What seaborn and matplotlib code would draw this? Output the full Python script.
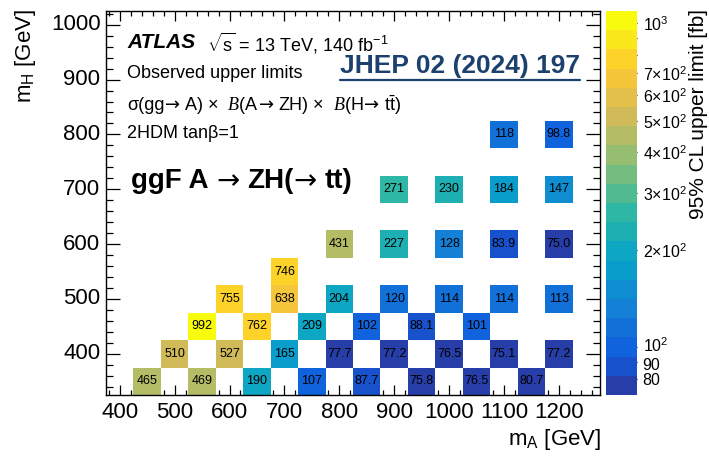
import numpy as np
import pandas as pd
import matplotlib
matplotlib.use("Agg")
import matplotlib.pyplot as plt
import matplotlib.transforms as mtransforms
import seaborn as sns
from matplotlib.colors import ListedColormap, LogNorm, LinearSegmentedColormap
from matplotlib.ticker import FixedLocator, FixedFormatter
from matplotlib.lines import Line2D

# Signal mass points (GeV) and observed 95% CL upper limits (fb)
m_A = [450, 550, 650, 750, 850, 950, 1050, 1150,
       500, 600, 700, 800, 900, 1000, 1100, 1200,
       550, 650, 750, 850, 950, 1050,
       600, 700, 800, 900, 1000, 1100, 1200,
       700,
       800, 900, 1000, 1100, 1200,
       900, 1000, 1100, 1200,
       1100, 1200]
m_H = [350, 350, 350, 350, 350, 350, 350, 350,
       400, 400, 400, 400, 400, 400, 400, 400,
       450, 450, 450, 450, 450, 450,
       500, 500, 500, 500, 500, 500, 500,
       550,
       600, 600, 600, 600, 600,
       700, 700, 700, 700,
       800, 800]
limit_fb = [465, 469, 190, 107, 87.7, 75.8, 76.5, 80.7,
            510, 527, 165, 77.7, 77.2, 76.5, 75.1, 77.2,
            992, 762, 209, 102, 88.1, 101,
            755, 638, 204, 120, 114, 114, 113,
            746,
            431, 227, 128, 83.9, 75.0,
            271, 230, 184, 147,
            118, 98.8]

# 50 GeV binning of both mass axes
ma_centres = np.arange(400, 1251, 50)
mh_centres = np.arange(350, 1001, 50)

# colour bar tick values / labels
cb_major = [100, 1000]
cb_major_labels = [r"$10^{2}$", r"$10^{3}$"]
cb_minor = [80, 90, 200, 300, 400, 500, 600, 700, 800, 900]
cb_minor_labels = ["80", "90", r"$2{\times}10^{2}$", r"$3{\times}10^{2}$",
                   r"$4{\times}10^{2}$", r"$5{\times}10^{2}$", r"$6{\times}10^{2}$",
                   r"$7{\times}10^{2}$", "", ""]

sns.set_theme(style="ticks")
LS = ["Liberation Sans", "DejaVu Sans"]
DV = ["DejaVu Sans"]
plt.rcParams["font.family"] = LS
plt.rcParams["text.color"] = "black"
plt.rcParams["axes.labelcolor"] = "black"
plt.rcParams["xtick.color"] = "black"
plt.rcParams["ytick.color"] = "black"
plt.rcParams["mathtext.fontset"] = "custom"
plt.rcParams["mathtext.rm"] = "Liberation Sans"
plt.rcParams["mathtext.it"] = "Liberation Serif:italic"
plt.rcParams["mathtext.bf"] = "Liberation Sans:bold"
plt.rcParams["mathtext.sf"] = "Liberation Sans"
plt.rcParams["mathtext.default"] = "rm"

# ROOT "kBird" palette, discretised into 20 contour levels
bird_stops = [0.0, 0.125, 0.25, 0.375, 0.5, 0.625, 0.75, 0.875, 1.0]
bird_r = [0.2082, 0.0592, 0.0780, 0.0232, 0.1802, 0.5301, 0.8186, 0.9956, 0.9764]
bird_g = [0.1664, 0.3599, 0.5041, 0.6419, 0.7178, 0.7492, 0.7328, 0.7862, 0.9832]
bird_b = [0.5293, 0.8684, 0.8385, 0.7914, 0.6425, 0.4662, 0.3499, 0.1968, 0.0539]
bird = LinearSegmentedColormap.from_list(
    "bird", list(zip(bird_stops, zip(bird_r, bird_g, bird_b))), N=255)
n_levels = 20
level_pos = [np.floor((i + 0.99) * 255 / n_levels) / 254 for i in range(n_levels)]
cmap = ListedColormap([bird(p) for p in level_pos])
norm = LogNorm(vmin=min(limit_fb) * 0.95, vmax=max(limit_fb) * 1.1)

df = pd.DataFrame({"mA": m_A, "mH": m_H, "limit": limit_fb})
grid = df.pivot(index="mH", columns="mA", values="limit").reindex(
    index=mh_centres, columns=ma_centres)
fmt_val = np.vectorize(lambda v: "" if np.isnan(v) else (f"{v:.0f}" if v >= 100 else f"{v:.1f}"))
annot = fmt_val(grid.values)

W, H = 709, 462
fig = plt.figure(figsize=(W / 100, H / 100), dpi=100)
ax = fig.add_axes([106 / W, 1 - 395 / H, 494 / W, 384 / H])
cax = fig.add_axes([606 / W, 1 - 395 / H, 31 / W, 384 / H])

sns.heatmap(grid, ax=ax, cbar_ax=cax, cmap=cmap, norm=norm,
            annot=annot, fmt="", linewidths=0,
            annot_kws=dict(color="black", fontsize=9))
ax.invert_yaxis()
for s in ax.spines.values():
    s.set_visible(True)
    s.set_color("black")
    s.set_linewidth(1.0)

def to_x(m):
    return (np.asarray(m, dtype=float) - 375) / 50

def to_y(m):
    return (np.asarray(m, dtype=float) - 325) / 50

xt = np.arange(400, 1201, 100)
yt = np.arange(400, 1001, 100)
ax.set_xticks(to_x(xt))
ax.set_xticklabels([str(v) for v in xt], rotation=0, fontsize=16)
ax.set_xticks(to_x(np.arange(380, 1275, 20)), minor=True)
ax.set_yticks(to_y(yt))
ax.set_yticklabels([str(v) for v in yt], rotation=0, fontsize=16)
ax.set_yticks(to_y(np.arange(340, 1025, 20)), minor=True)
ax.set_xlabel("")
ax.set_ylabel("")
ax.tick_params(which="both", direction="in", top=True, right=True,
               color="black", width=0.9, labelcolor="black")
ax.tick_params(axis="x", which="major", length=7, pad=5)
ax.tick_params(axis="x", which="minor", length=3.5)
ax.tick_params(axis="y", which="major", length=10, pad=4)
ax.tick_params(axis="y", which="minor", length=5)

# colour bar: ticks drawn inward from the right edge, labels beside them
cb_size = 11.5
cb_pad = 4
cbar = ax.collections[0].colorbar
cbar.outline.set_visible(False)
shifted = {100: 2, 90: -1}  # small vertical nudges (points) for the two crowded labels
cbar.set_ticks(cb_major, labels=["" if v in shifted else l for v, l in zip(cb_major, cb_major_labels)])
cax.yaxis.set_minor_locator(FixedLocator(cb_minor))
cax.yaxis.set_minor_formatter(FixedFormatter(
    ["" if v in shifted else l for v, l in zip(cb_minor, cb_minor_labels)]))
cax.yaxis.set_ticks_position("right")
cax.tick_params(which="both", direction="in", color="black", width=0.9,
                labelsize=cb_size, pad=cb_pad, labelcolor="black")
cax.tick_params(which="major", length=11)
cax.tick_params(which="minor", length=3.6)
cax.set_ylabel("")
cb_trans = mtransforms.blended_transform_factory(cax.transAxes, cax.transData)
all_vals = cb_major + cb_minor
all_labels = cb_major_labels + cb_minor_labels
for v, dy in shifted.items():
    lab = all_labels[all_vals.index(v)]
    cax.text(1.0, v, lab, fontsize=cb_size, ha="left", va="center_baseline",
             transform=mtransforms.offset_copy(cb_trans, fig=fig, x=cb_pad, y=dy, units="points"))

def px(x, y):
    return x / W, 1 - y / H

# axis titles
fig.text(*px(26, 9), r"m$_{\mathrm{H}}$ [GeV]", rotation=90, ha="center", va="top", fontsize=16)
fig.text(*px(601, 440), r"m$_{\mathrm{A}}$ [GeV]", ha="right", va="center", fontsize=16)
fig.text(*px(699, 9), "95% CL upper limit [fb]", rotation=90, ha="center", va="top", fontsize=15)

renderer = fig.canvas.get_renderer()

def text_row(x_px, y_px, pieces, size, **kw):
    """Lay out several text runs side by side; each run is (text, family, gap_em, weight)."""
    cur = x_px
    for s, fam, gap, weight in pieces:
        t = fig.text(cur / W, 1 - y_px / H, s, fontsize=size, family=fam,
                     fontweight=weight, va="center", **kw)
        bb = t.get_window_extent(renderer)
        cur = bb.x1 + gap * size * 100 / 72

# labels inside the frame
fig.text(*px(127, 43), "ATLAS", fontsize=15, fontweight="bold", fontstyle="italic", va="center")
fig.text(*px(207, 43), r"$\sqrt{\mathrm{s}}$ = 13 TeV, 140 fb$^{\mathrm{-1}}$", fontsize=13, va="center")
fig.text(*px(127, 73), "Observed upper limits", fontsize=13, va="center")
text_row(127, 105, [("σ(gg", LS, 0.0, "normal"), ("→", DV, 0.25, "normal"),
                    (r"A) ×  $\mathit{B}$(A", LS, 0.0, "normal"), ("→", DV, 0.25, "normal"),
                    (r"ZH) ×  $\mathit{B}$(H", LS, 0.0, "normal"), ("→", DV, 0.25, "normal"),
                    (r"t$\bar{\mathrm{t}}$)", LS, 0.0, "normal")], 13)
fig.text(*px(127, 133), "2HDM tanβ=1", fontsize=13, va="center")
text_row(131, 181, [("ggF A", LS, 0.28, "bold"), ("→", DV, 0.28, "normal"),
                    ("ZH(", LS, 0.0, "bold"), ("→", DV, 0.28, "normal"),
                    ("tt)", LS, 0.0, "bold")], 20)
jhep = fig.text(*px(340, 66), "JHEP 02 (2024) 197", fontsize=19, fontweight="bold",
                color="#1d416e", va="center")

bb = jhep.get_window_extent(renderer).transformed(fig.transFigure.inverted())
uy = bb.y0 - 2 / H
fig.add_artist(Line2D([bb.x0, bb.x1], [uy, uy], transform=fig.transFigure,
                      color="#1d416e", linewidth=1.6))

fig.savefig("out.png", dpi=100)
